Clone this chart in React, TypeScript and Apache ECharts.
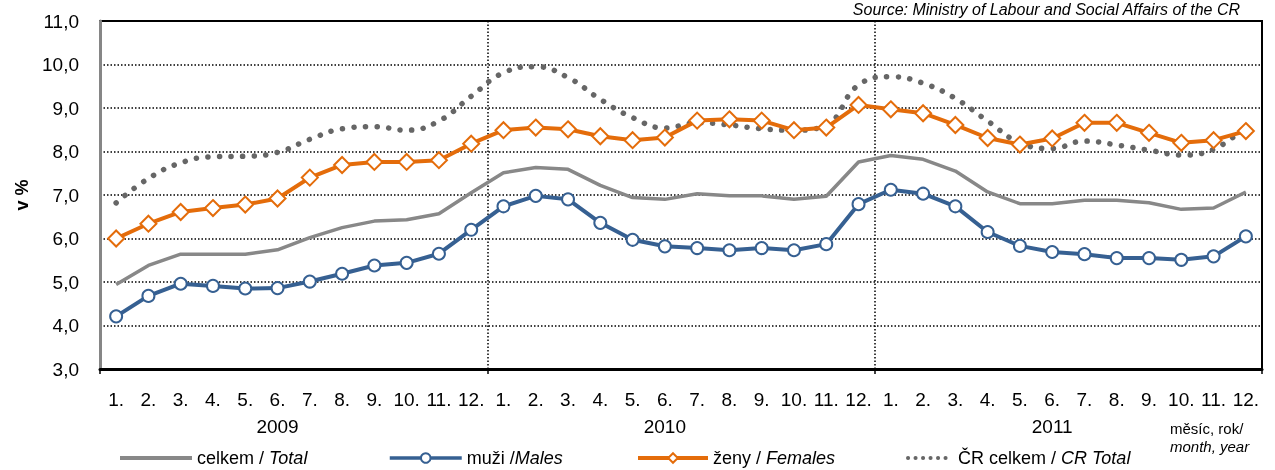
import React, { useEffect, useRef } from "react";
import * as echarts from "echarts";

const monthLabels = [
  "1.", "2.", "3.", "4.", "5.", "6.", "7.", "8.", "9.", "10.", "11.", "12.",
  "1.", "2.", "3.", "4.", "5.", "6.", "7.", "8.", "9.", "10.", "11.", "12.",
  "1.", "2.", "3.", "4.", "5.", "6.", "7.", "8.", "9.", "10.", "11.", "12.",
];
const yearOfCategory = [
  "2009", "2009", "2009", "2009", "2009", "2009", "2009", "2009", "2009", "2009", "2009", "2009",
  "2010", "2010", "2010", "2010", "2010", "2010", "2010", "2010", "2010", "2010", "2010", "2010",
  "2011", "2011", "2011", "2011", "2011", "2011", "2011", "2011", "2011", "2011", "2011", "2011",
];

const seriesNames = ["celkem / Total", "muži /Males", "ženy / Females", "ČR celkem / CR Total"];

const totalValues = [
  4.94, 5.38, 5.64, 5.64, 5.64, 5.74, 6.02, 6.25, 6.4, 6.43, 6.57, 7.05,
  7.51, 7.63, 7.59, 7.22, 6.94, 6.9, 7.03, 6.98, 6.98, 6.9, 6.97, 7.76,
  7.91, 7.82, 7.55, 7.07, 6.8, 6.8, 6.88, 6.88, 6.82, 6.67, 6.7, 7.07,
];
const maleValues = [
  4.21, 4.68, 4.96, 4.91, 4.85, 4.86, 5.01, 5.19, 5.38, 5.44, 5.65, 6.2,
  6.74, 6.98, 6.9, 6.36, 5.97, 5.82, 5.78, 5.73, 5.78, 5.73, 5.87, 6.79,
  7.12, 7.03, 6.74, 6.15, 5.83, 5.69, 5.64, 5.55, 5.55, 5.51, 5.59, 6.05,
];
const femaleValues = [
  6.0, 6.34, 6.61, 6.7, 6.78, 6.92, 7.4, 7.69, 7.76, 7.76, 7.8, 8.18,
  8.49, 8.55, 8.51, 8.35, 8.26, 8.32, 8.71, 8.74, 8.71, 8.49, 8.55, 9.07,
  8.97, 8.88, 8.61, 8.31, 8.16, 8.3, 8.66, 8.66, 8.43, 8.2, 8.26, 8.47,
];
const crTotalValues = [
  6.82, 7.38, 7.74, 7.88, 7.89, 7.98, 8.28, 8.52, 8.57, 8.49, 8.7, 9.27,
  9.81, 9.95, 9.7, 9.2, 8.78, 8.54, 8.66, 8.61, 8.52, 8.49, 8.61, 9.53,
  9.72, 9.57, 9.22, 8.7, 8.2, 8.07, 8.24, 8.15, 8.03, 7.92, 8.05, 8.58,
];

const FONT = "'Liberation Sans', Arial, sans-serif";
const GREY = "#888888";
const BLUE = "#366092";
const ORANGE = "#e46c0a";
const DOTS = "#666666";

export default function App() {
  const ref = useRef<HTMLDivElement>(null);

  useEffect(() => {
    if (!ref.current) return;
    const chart = echarts.init(ref.current, null, { renderer: "svg" });

    const legendText = {
      fontSize: 18,
      lineHeight: 20,
      fontFamily: FONT,
      color: "#000",
      rich: {
        n: { fontSize: 18, lineHeight: 20, fontFamily: FONT, color: "#000" },
        i: { fontSize: 18, lineHeight: 20, fontFamily: FONT, color: "#000", fontStyle: "italic" },
      },
    };
    const legendFormatter = (name: string) => {
      const k = name.indexOf("/");
      return `{n|${name.slice(0, k + 1)}}{i|${name.slice(k + 1)}}`;
    };
    const mkLegend = (name: string, left: number, itemWidth: number, extra: any = {}) => ({
      show: true,
      data: [name],
      left,
      top: 448,
      itemWidth,
      itemHeight: 12,
      itemGap: 0,
      padding: 0,
      selectedMode: false,
      textStyle: legendText,
      formatter: legendFormatter,
      ...extra,
    });

    const yearBoundary = (i: number) => i % 12 === 0;

    chart.setOption({
      animation: false,
      grid: {
        left: 100,
        right: 13,
        top: 21,
        bottom: 101,
        show: true,
        borderColor: "#000",
        borderWidth: 2,
        backgroundColor: "transparent",
      },
      legend: [
        mkLegend(seriesNames[0], 118, 72, {
          itemStyle: { opacity: 0 },
          lineStyle: { width: 4, color: GREY },
        }),
        mkLegend(seriesNames[1], 388, 72, { lineStyle: { width: 3.5, color: BLUE } }),
        mkLegend(seriesNames[2], 636, 70, { lineStyle: { width: 4, color: ORANGE } }),
        mkLegend(seriesNames[3], 906, 45, {
          itemStyle: { opacity: 0 },
          lineStyle: { type: [0.1, 7.4], width: 4, cap: "round", color: DOTS },
        }),
      ],
      xAxis: [
        {
          type: "category",
          data: monthLabels,
          boundaryGap: true,
          position: "bottom",
          axisLine: { show: true, lineStyle: { color: "#000", width: 3 } },
          axisTick: {
            show: true,
            interval: (i: number) => yearBoundary(i),
            length: 5,
            lineStyle: { color: "#000", width: 1.5 },
          },
          splitLine: {
            show: true,
            interval: (i: number) => yearBoundary(i),
            lineStyle: { color: "#000", width: 1.5, type: [1.5, 2] },
          },
          axisLabel: {
            interval: 0,
            margin: 21,
            fontSize: 19,
            fontFamily: FONT,
            color: "#000",
          },
        },
        {
          type: "category",
          data: yearOfCategory,
          boundaryGap: true,
          position: "bottom",
          offset: 27,
          axisLine: { show: false },
          axisTick: { show: false },
          splitLine: { show: false },
          axisLabel: {
            interval: (i: number) => i % 12 === 5,
            margin: 21,
            fontSize: 19,
            fontFamily: FONT,
            color: "#000",
          },
        },
      ],
      yAxis: {
        type: "value",
        min: 3,
        max: 11,
        interval: 1,
        name: "v %",
        nameLocation: "middle",
        nameGap: 68,
        nameTextStyle: { fontSize: 18, fontWeight: "bold", fontFamily: FONT, color: "#000" },
        axisLine: { show: true, lineStyle: { color: "#868686", width: 3 } },
        axisTick: { show: false },
        axisLabel: {
          margin: 21,
          fontSize: 19,
          fontFamily: FONT,
          color: "#000",
          formatter: (v: number) => v.toFixed(1).replace(".", ","),
        },
        splitLine: { show: true, lineStyle: { color: "#000", width: 1.5, type: [1.5, 2] } },
      },
      series: [
        {
          name: seriesNames[3],
          type: "line",
          data: crTotalValues,
          smooth: 0.45,
          symbol: "none",
          z: 1,
          color: DOTS,
          lineStyle: { color: DOTS, width: 5.5, type: [0.1, 11.5], cap: "round" },
        },
        {
          name: seriesNames[0],
          type: "line",
          data: totalValues,
          symbol: "none",
          color: GREY,
          lineStyle: { color: GREY, width: 3.5 },
        },
        {
          name: seriesNames[1],
          type: "line",
          data: maleValues,
          symbol: "circle",
          symbolSize: 12,
          color: BLUE,
          lineStyle: { color: BLUE, width: 4 },
          itemStyle: { color: "#fff", borderColor: BLUE, borderWidth: 2 },
        },
        {
          name: seriesNames[2],
          type: "line",
          data: femaleValues,
          symbol: "diamond",
          symbolSize: 16,
          color: ORANGE,
          lineStyle: { color: ORANGE, width: 4 },
          itemStyle: { color: "#fff", borderColor: ORANGE, borderWidth: 2 },
        },
      ],
      graphic: [
        {
          type: "text",
          x: 1240,
          y: 9,
          style: {
            text: "Source: Ministry of Labour and Social Affairs of the CR",
            font: `italic 16px ${FONT}`,
            fill: "#000",
            align: "right",
            verticalAlign: "middle",
          },
        },
        {
          type: "text",
          x: 1170,
          y: 428,
          style: {
            text: "měsíc, rok/",
            font: `15px ${FONT}`,
            fill: "#000",
            align: "left",
            verticalAlign: "middle",
          },
        },
        {
          type: "text",
          x: 1170,
          y: 446,
          style: {
            text: "month, year",
            font: `italic 15px ${FONT}`,
            fill: "#000",
            align: "left",
            verticalAlign: "middle",
          },
        },
      ],
    });

    return () => chart.dispose();
  }, []);

  return (
    <div
      ref={ref}
      style={{ position: "fixed", left: 0, top: 0, width: 1275, height: 470 }}
    />
  );
}
